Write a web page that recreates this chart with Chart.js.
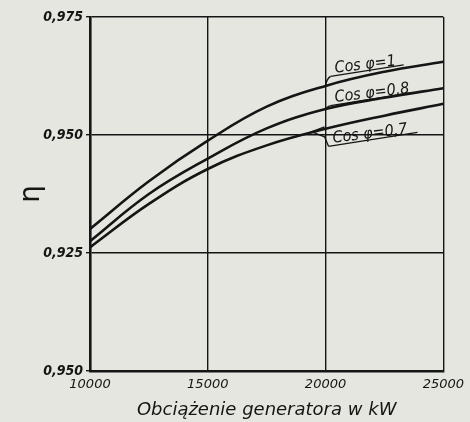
<!DOCTYPE html>
<html>
<head>
<meta charset="utf-8">
<script src="https://cdn.jsdelivr.net/npm/chart.js@4"></script>
<style>
html,body{margin:0;padding:0;background:#e6e6e0;}
#wrap{width:470px;height:422px;position:relative;}
</style>
</head>
<body>
<div id="wrap"><canvas id="c"></canvas></div>
<script>
// ---- data ----
const loads = [10000, 12500, 15000, 17500, 20000, 22500, 25000];
const effCos1 = [0.9301, 0.9402, 0.9488, 0.9560, 0.9604, 0.9634, 0.9655];
const effCos08 = [0.9275, 0.9375, 0.9450, 0.9514, 0.9555, 0.9579, 0.9599];
const effCos07 = [0.9262, 0.9354, 0.9428, 0.9478, 0.9513, 0.9541, 0.9566];
const seriesLabels = ['Cos φ=1', 'Cos φ=0,8', 'Cos φ=0,7'];
const yTickLabels = ['0,950', '0,925', '0,950', '0,975'];
const xTickLabels = ['10000', '15000', '20000', '25000'];
const xTitle = 'Obciążenie generatora w kW';
const yTitle = 'η';
const labelAnchorLoad = 20000;

const INK = '#151515';
const COND = '"DejaVu Sans Condensed", "DejaVu Sans"';
const seriesValues = [effCos1, effCos08, effCos07];

const datasets = seriesValues.map((vals, i) => ({
  label: seriesLabels[i],
  data: loads.map((x, j) => ({x: x, y: vals[j]})),
  borderColor: INK,
  borderWidth: 2.6,
  pointRadius: 0,
  fill: false,
  tension: 0.4
}));

// leader-line labels, attached to each curve at 20000 kW
const curveLabels = {
  id: 'curveLabels',
  afterDatasetsDraw(chart) {
    const ctx = chart.ctx;
    const xs = chart.scales.x, ys = chart.scales.y;
    const ax = xs.getPixelForValue(labelAnchorLoad);
    const idx = loads.indexOf(labelAnchorLoad);
    ctx.save();
    ctx.strokeStyle = INK;
    ctx.fillStyle = INK;
    ctx.lineWidth = 1.3;
    ctx.font = 'italic 16px ' + COND;
    ctx.textBaseline = 'alphabetic';
    const ang = -9 * Math.PI / 180;
    seriesValues.forEach((vals, i) => {
      const ay = ys.getPixelForValue(vals[idx]);
      let ux, uy, len;
      if (i === 0) { ux = ax + 5; uy = ay - 9.5; len = 74; }
      else if (i === 1) { ux = ax + 5; uy = ay - 3.5; len = 84; }
      else { ux = ax + 3; uy = ay + 17.5; len = 90; }
      // leader
      ctx.beginPath();
      if (i === 0) {
        ctx.moveTo(ax, ay);
        ctx.quadraticCurveTo(ax + 1, ay - 7, ux, uy);
      } else if (i === 1) {
        ctx.moveTo(ax, ay + 1);
        ctx.quadraticCurveTo(ax + 1, uy + 1, ux, uy);
      } else {
        ctx.moveTo(ux, uy);
        ctx.lineTo(ax - 1, ay + 8);
        ctx.lineTo(ax - 14, ay + 3);
        ctx.lineTo(ax - 1, ay - 2);
      }
      ctx.stroke();
      // underline + text in rotated frame
      ctx.save();
      ctx.translate(ux, uy);
      ctx.rotate(ang);
      ctx.beginPath();
      ctx.moveTo(0, 0);
      ctx.lineTo(len, 0);
      ctx.stroke();
      ctx.rotate(2 * Math.PI / 180);
      ctx.fillText(seriesLabels[i], 5, -3);
      ctx.restore();
    });
    ctx.restore();
  }
};

const bg = {
  id: 'bg',
  beforeDraw(chart) {
    const ctx = chart.ctx;
    ctx.save();
    ctx.fillStyle = '#e6e6e0';
    ctx.fillRect(0, 0, chart.width, chart.height);
    ctx.restore();
  }
};

new Chart(document.getElementById('c'), {
  type: 'line',
  data: {datasets: datasets},
  plugins: [bg, curveLabels],
  options: {
    responsive: true,
    maintainAspectRatio: false,
    animation: false,
    layout: {padding: {left: 0, right: 25, top: 17, bottom: 0}},
    plugins: {legend: {display: false}, tooltip: {enabled: false}},
    scales: {
      x: {
        type: 'linear',
        min: 10000, max: 25000,
        afterFit(s) { s.height = 51; },
        ticks: {
          stepSize: 5000,
          color: INK,
          padding: 6,
          maxRotation: 0,
          font: {family: '"DejaVu Sans"', size: 13, style: 'italic'},
          callback: (v, i) => xTickLabels[i]
        },
        grid: {color: INK, lineWidth: 1.4, drawTicks: false},
        border: {color: INK, width: 2.4},
        title: {
          display: true, text: xTitle, color: INK,
          font: {family: '"DejaVu Sans"', size: 18, style: 'italic'},
          padding: {top: 0, bottom: 1}
        }
      },
      y: {
        type: 'linear',
        min: 0.9, max: 0.975,
        afterFit(s) { s.width = 90; },
        ticks: {
          stepSize: 0.025,
          color: INK,
          padding: 3,
          font: {family: COND, size: 14, style: 'italic', weight: 'bold'},
          callback: (v, i) => yTickLabels[i]
        },
        grid: {color: INK, lineWidth: 1.4, tickLength: 4},
        border: {color: INK, width: 2.6},
        title: {
          display: true, text: yTitle, color: INK,
          font: {family: '"DejaVu Sans"', size: 28},
          padding: {top: 15, bottom: 0}
        }
      }
    }
  }
});
</script>
</body>
</html>
